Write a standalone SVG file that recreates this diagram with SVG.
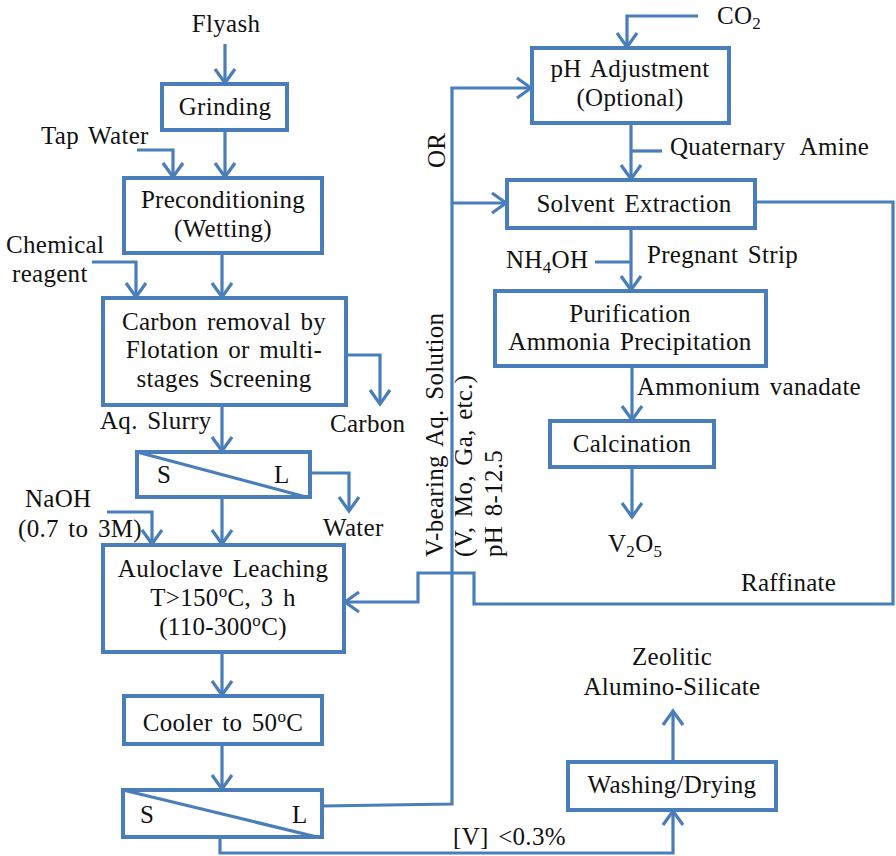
<svg xmlns="http://www.w3.org/2000/svg" width="896" height="856" viewBox="0 0 896 856" font-family="'Liberation Serif', 'Times New Roman', 'DejaVu Serif', serif">
  <style>
    .box { fill: #ffffff; stroke: #4a7ebb; stroke-width: 4; }
    .ln { fill: none; stroke: #4a7ebb; stroke-width: 3.2; stroke-linejoin: miter; }
    .arr { marker-end: url(#head); }
    text { font-family: 'Liberation Serif', 'Times New Roman', 'DejaVu Serif', serif; font-size: 25px; fill: #111111; letter-spacing: 0.3px; word-spacing: 3px; }
    .c { text-anchor: middle; }
    .sub { font-size: 17px; }
  </style>
  <defs>
    <marker id="head" markerUnits="userSpaceOnUse" markerWidth="20" markerHeight="24" viewBox="0 0 20 24" refX="17" refY="12" orient="auto">
      <path d="M3,2 L17,12 L3,22" fill="none" stroke="#4a7ebb" stroke-width="3.2"/>
    </marker>
  </defs>

  <!-- flow connectors -->
  <g id="connectors">
    <path class="ln arr" d="M225,44 V83"/>
    <path class="ln arr" d="M137,150 H173 V177"/>
    <path class="ln arr" d="M225,130 V177"/>
    <path class="ln arr" d="M92,262 H136 V297"/>
    <path class="ln arr" d="M222,253 V297"/>
    <path class="ln arr" d="M346,355 H380 V404"/>
    <path class="ln arr" d="M222,405 V451"/>
    <path class="ln arr" d="M310,473 H349 V511"/>
    <path class="ln arr" d="M107,512 H152 V544"/>
    <path class="ln arr" d="M222,497 V544"/>
    <path class="ln arr" d="M222,652 V695"/>
    <path class="ln arr" d="M222,744 V789"/>
    <path class="ln arr" d="M322,806 L452,804 V88 H531"/>
    <path class="ln arr" d="M452,203 H506"/>
    <path class="ln arr" d="M698,16 H627 V47"/>
    <path class="ln arr" d="M631,123 V179"/>
    <path class="ln" d="M631,151 H662"/>
    <path class="ln arr" d="M631,228 V290"/>
    <path class="ln" d="M595,262 H631"/>
    <path class="ln arr" d="M632,366 V420"/>
    <path class="ln arr" d="M632,467 V517"/>
    <path class="ln arr" d="M755,202 H893 V604 H474 V573 H418 V602 H345"/>
    <path class="ln arr" d="M220,837 V853 H673 V811"/>
    <path class="ln arr" d="M673,762 V711"/>
  </g>

  <!-- stream labels -->
  <g id="labels">
    <text x="226" y="32" class="c">Flyash</text>
    <text x="41" y="144">Tap Water</text>
    <text x="6" y="253">Chemical</text>
    <text x="12" y="282">reagent</text>
    <text x="100" y="429">Aq. Slurry</text>
    <text x="330" y="432">Carbon</text>
    <text x="25" y="507">NaOH</text>
    <text x="18" y="537">(0.7 to 3M)</text>
    <text x="323" y="536">Water</text>
    <text x="453" y="845">[V] &lt;0.3%</text>
    <text x="672" y="665" class="c">Zeolitic</text>
    <text x="672" y="695" class="c">Alumino-Silicate</text>
    <text x="717" y="24">CO<tspan class="sub" dy="5">2</tspan></text>
    <text x="670" y="155" style="word-spacing:9px">Quaternary Amine</text>
    <text x="506" y="268">NH<tspan class="sub" dy="5">4</tspan><tspan dy="-5">OH</tspan></text>
    <text x="647" y="263">Pregnant Strip</text>
    <text x="637" y="395">Ammonium vanadate</text>
    <text x="608" y="552">V<tspan class="sub" dy="5">2</tspan><tspan dy="-5">O</tspan><tspan class="sub" dy="5">5</tspan></text>
    <text x="741" y="591">Raffinate</text>
    <text transform="translate(445,168) rotate(-90)">OR</text>
    <text transform="translate(443,557) rotate(-90)">V-bearing Aq. Solution</text>
    <text transform="translate(472,557) rotate(-90)">(V, Mo, Ga, etc.)</text>
    <text transform="translate(502,557) rotate(-90)">pH 8-12.5</text>
  </g>

  <g id="grinding">
    <rect class="box" x="162" y="84" width="125" height="46"/>
    <text x="225" y="115" class="c">Grinding</text>
  </g>

  <g id="preconditioning">
    <rect class="box" x="124" y="178" width="198" height="75"/>
    <text x="223" y="208" class="c">Preconditioning</text>
    <text x="223" y="237" class="c">(Wetting)</text>
  </g>

  <g id="carbon-removal">
    <rect class="box" x="103" y="298" width="243" height="107"/>
    <text x="224" y="330" class="c">Carbon removal by</text>
    <text x="224" y="358" class="c">Flotation or multi-</text>
    <text x="224" y="387" class="c">stages Screening</text>
  </g>

  <g id="separator-1">
    <rect class="box" x="137" y="452" width="173" height="45"/>
    <path class="ln" d="M137,452 L306,497"/>
    <text x="157" y="483">S</text>
    <text x="274" y="483">L</text>
  </g>

  <g id="autoclave">
    <rect class="box" x="103" y="545" width="241" height="107"/>
    <text x="223" y="577" class="c">Auloclave Leaching</text>
    <text x="223" y="606" class="c">T&gt;150<tspan class="sub" dy="-9">o</tspan><tspan dy="9">C, 3 h</tspan></text>
    <text x="223" y="635" class="c">(110-300<tspan class="sub" dy="-9">o</tspan><tspan dy="9">C)</tspan></text>
  </g>

  <g id="cooler">
    <rect class="box" x="124" y="696" width="198" height="48"/>
    <text x="223" y="731" class="c">Cooler to 50<tspan class="sub" dy="-9">o</tspan><tspan dy="9">C</tspan></text>
  </g>

  <g id="separator-2">
    <rect class="box" x="123" y="790" width="199" height="47"/>
    <path class="ln" d="M123,790 L317,837"/>
    <text x="140" y="823">S</text>
    <text x="292" y="823">L</text>
  </g>

  <g id="ph-adjustment">
    <rect class="box" x="532" y="48" width="197" height="75"/>
    <text x="630" y="77" class="c">pH Adjustment</text>
    <text x="630" y="106" class="c">(Optional)</text>
  </g>

  <g id="solvent-extraction">
    <rect class="box" x="507" y="180" width="248" height="48"/>
    <text x="634" y="212" class="c">Solvent Extraction</text>
  </g>

  <g id="purification">
    <rect class="box" x="495" y="291" width="271" height="75"/>
    <text x="630" y="322" class="c">Purification</text>
    <text x="630" y="350" class="c">Ammonia Precipitation</text>
  </g>

  <g id="calcination">
    <rect class="box" x="550" y="421" width="164" height="46"/>
    <text x="632" y="452" class="c">Calcination</text>
  </g>

  <g id="washing-drying">
    <rect class="box" x="568" y="762" width="208" height="48"/>
    <text x="672" y="793" class="c">Washing/Drying</text>
  </g>
</svg>
